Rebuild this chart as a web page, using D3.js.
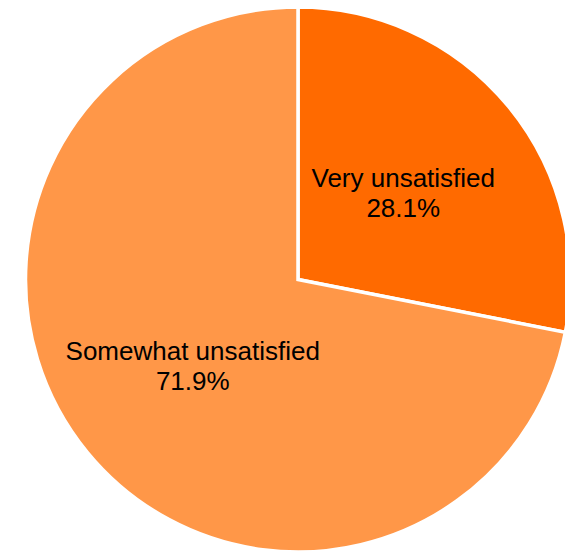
<!DOCTYPE html>
<html>
<head>
<meta charset="utf-8">
<script src="https://cdn.jsdelivr.net/npm/d3@7"></script>
<style>
  html, body { margin: 0; padding: 0; background: #ffffff; }
  svg { display: block; }
</style>
</head>
<body>
<svg id="chart" width="565" height="553"></svg>
<script>
const categories = ["Very unsatisfied", "Somewhat unsatisfied"];
const values = [28.1, 71.9];
const valueLabels = ["28.1%", "71.9%"];
const colors = ["#FF6A00", "#FF9748"];

const W = 565, H = 553;
const cx = 298, cy = 279.5, R = 272.5;

const svg = d3.select("#chart");
const g = svg.append("g").attr("transform", `translate(${cx},${cy})`);

const pie = d3.pie().sort(null).value(d => d.value);
const data = pie(categories.map((c, i) => ({ cat: c, value: values[i], label: valueLabels[i], color: colors[i] })));

const arc = d3.arc().innerRadius(0).outerRadius(R);
const labelArc = d3.arc().innerRadius(R * 0.5).outerRadius(R * 0.5);

g.selectAll("path.slice")
  .data(data)
  .join("path")
  .attr("class", "slice")
  .attr("d", arc)
  .attr("fill", d => d.data.color)
  .attr("stroke", "#ffffff")
  .attr("stroke-width", 3.5)
  .attr("stroke-linejoin", "miter");

const labels = g.selectAll("g.lbl")
  .data(data)
  .join("g")
  .attr("class", "lbl")
  .attr("transform", d => {
    const [x, y] = labelArc.centroid(d);
    return `translate(${x},${y})`;
  });

labels.append("text")
  .attr("text-anchor", "middle")
  .attr("y", -6)
  .attr("font-family", "'Liberation Sans', Arial, sans-serif")
  .attr("font-size", 26)
  .attr("fill", "#000000")
  .text(d => d.data.cat);

labels.append("text")
  .attr("text-anchor", "middle")
  .attr("y", 24)
  .attr("font-family", "'Liberation Sans', Arial, sans-serif")
  .attr("font-size", 26)
  .attr("fill", "#000000")
  .text(d => d.data.label);
</script>
</body>
</html>
